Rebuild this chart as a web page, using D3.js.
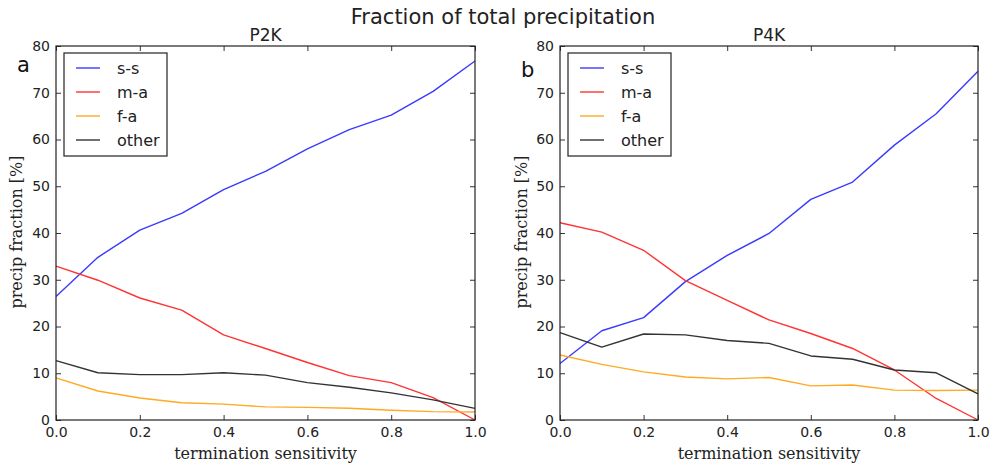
<!DOCTYPE html>
<html>
<head>
<meta charset="utf-8">
<script src="https://cdn.jsdelivr.net/npm/d3@7"></script>
<style>
  body { margin: 0; background: #fff; }
  svg { display: block; }
  .tick text { font-family: "DejaVu Sans", sans-serif; font-size: 14px; fill: #222; }
  .tick line { stroke: #333; }
  .domain { display: none; }
</style>
</head>
<body>
<div id="chart"></div>
<script>
// shared x values (termination sensitivity)
const sensitivity = [0.0, 0.1, 0.2, 0.3, 0.4, 0.5, 0.6, 0.7, 0.8, 0.9, 1.0];
const xTicks = [0.0, 0.2, 0.4, 0.6, 0.8, 1.0];
const yTicks = [0, 10, 20, 30, 40, 50, 60, 70, 80];

const seriesNames = ["s-s", "m-a", "f-a", "other"];
const seriesColors = ["#3a3aff", "#ff3333", "#ffaa22", "#333333"];

// P2K panel
const p2kSS    = [26.4, 34.8, 40.6, 44.2, 49.3, 53.2, 58.0, 62.1, 65.2, 70.3, 76.8];
const p2kMA    = [32.9, 29.9, 26.1, 23.5, 18.2, 15.3, 12.3, 9.5, 8.0, 4.8, 0.0];
const p2kFA    = [9.0, 6.2, 4.7, 3.7, 3.4, 2.8, 2.7, 2.5, 2.1, 1.8, 1.7];
const p2kOther = [12.7, 10.1, 9.7, 9.7, 10.1, 9.6, 8.0, 7.0, 5.8, 4.3, 2.5];

// P4K panel
const p4kSS    = [12.1, 19.1, 21.9, 29.6, 35.2, 39.9, 47.2, 50.9, 58.8, 65.5, 74.6];
const p4kMA    = [42.2, 40.2, 36.3, 29.8, 25.6, 21.4, 18.5, 15.3, 10.7, 4.6, 0.0];
const p4kFA    = [13.9, 11.9, 10.3, 9.2, 8.8, 9.1, 7.3, 7.5, 6.4, 6.3, 6.4];
const p4kOther = [18.7, 15.6, 18.4, 18.2, 17.0, 16.4, 13.7, 13.0, 10.7, 10.1, 5.6];

const W = 1005, H = 467;
const svg = d3.select('#chart').append('svg')
  .attr('width', W)
  .attr('height', H);

svg.append('text')
  .attr('x', 503).attr('y', 24)
  .attr('text-anchor', 'middle')
  .style('font-family', '"DejaVu Sans", sans-serif')
  .style('font-size', '21px')
  .style('fill', '#222')
  .text('Fraction of total precipitation');

const panels = [
  { title: 'P2K', tag: 'a', tagY: 72, left: 56, right: 475, series: [p2kSS, p2kMA, p2kFA, p2kOther], ylabX: 22 },
  { title: 'P4K', tag: 'b', tagY: 77, left: 560, right: 978, series: [p4kSS, p4kMA, p4kFA, p4kOther], ylabX: 527 }
];
const plotTop = 46, plotBottom = 420;

panels.forEach(p => {
  const x = d3.scaleLinear().domain([0, 1]).range([p.left, p.right]);
  const y = d3.scaleLinear().domain([0, 80]).range([plotBottom, plotTop]);
  const w = p.right - p.left, h = plotBottom - plotTop;

  const g = svg.append('g');

  // lines
  const line = d3.line()
    .x((d, i) => x(sensitivity[i]))
    .y(d => y(d));

  p.series.forEach((s, i) => {
    g.append('path')
      .datum(s)
      .attr('d', line)
      .attr('fill', 'none')
      .attr('stroke', seriesColors[i])
      .attr('stroke-width', 1.4)
      .attr('stroke-linejoin', 'round');
  });

  // axes, ticks pointing inward on all four sides
  g.append('g')
    .attr('transform', `translate(0,${plotBottom})`)
    .call(d3.axisBottom(x).tickValues(xTicks).tickFormat(d3.format('.1f')).tickSizeInner(-5).tickSizeOuter(0).tickPadding(7));
  g.append('g')
    .attr('transform', `translate(0,${plotTop})`)
    .call(d3.axisTop(x).tickValues(xTicks).tickFormat('').tickSizeInner(-5).tickSizeOuter(0));
  g.append('g')
    .attr('transform', `translate(${p.left},0)`)
    .call(d3.axisLeft(y).tickValues(yTicks).tickSizeInner(-5).tickSizeOuter(0).tickPadding(6));
  g.append('g')
    .attr('transform', `translate(${p.right},0)`)
    .call(d3.axisRight(y).tickValues(yTicks).tickFormat('').tickSizeInner(-5).tickSizeOuter(0));

  // frame
  g.append('rect')
    .attr('x', p.left).attr('y', plotTop)
    .attr('width', w).attr('height', h)
    .attr('fill', 'none')
    .attr('stroke', '#222')
    .attr('stroke-width', 1.2);

  // panel title
  g.append('text')
    .attr('x', (p.left + p.right) / 2).attr('y', 41)
    .attr('text-anchor', 'middle')
    .style('font-family', '"DejaVu Sans", sans-serif')
    .style('font-size', '17px')
    .style('fill', '#222')
    .text(p.title);

  // panel tag
  g.append('text')
    .attr('x', p.left - 39).attr('y', p.tagY)
    .style('font-family', '"DejaVu Sans", sans-serif')
    .style('font-size', '21px')
    .style('fill', '#111')
    .text(p.tag);

  // axis labels
  g.append('text')
    .attr('x', (p.left + p.right) / 2).attr('y', 459)
    .attr('text-anchor', 'middle')
    .style('font-family', '"DejaVu Serif", serif')
    .style('font-size', '16px')
    .style('fill', '#222')
    .text('termination sensitivity');
  g.append('text')
    .attr('transform', `translate(${p.ylabX},${(plotTop + plotBottom) / 2 - 1}) rotate(-90)`)
    .attr('text-anchor', 'middle')
    .style('font-family', '"DejaVu Serif", serif')
    .style('font-size', '16px')
    .style('fill', '#222')
    .text('precip fraction [%]');

  // legend
  const lg = g.append('g').attr('transform', `translate(${p.left + 8},${plotTop + 7})`);
  lg.append('rect')
    .attr('width', 103).attr('height', 103)
    .attr('fill', '#fff')
    .attr('stroke', '#222')
    .attr('stroke-width', 1.2);
  seriesNames.forEach((name, i) => {
    const yy = 15 + i * 24;
    lg.append('line')
      .attr('x1', 12).attr('x2', 36)
      .attr('y1', yy).attr('y2', yy)
      .attr('stroke', seriesColors[i])
      .attr('stroke-width', 1.4);
    lg.append('text')
      .attr('x', 53).attr('y', yy + 6)
      .style('font-family', '"DejaVu Sans", sans-serif')
      .style('font-size', '16px')
      .style('fill', '#222')
      .text(name);
  });
});
</script>
</body>
</html>
